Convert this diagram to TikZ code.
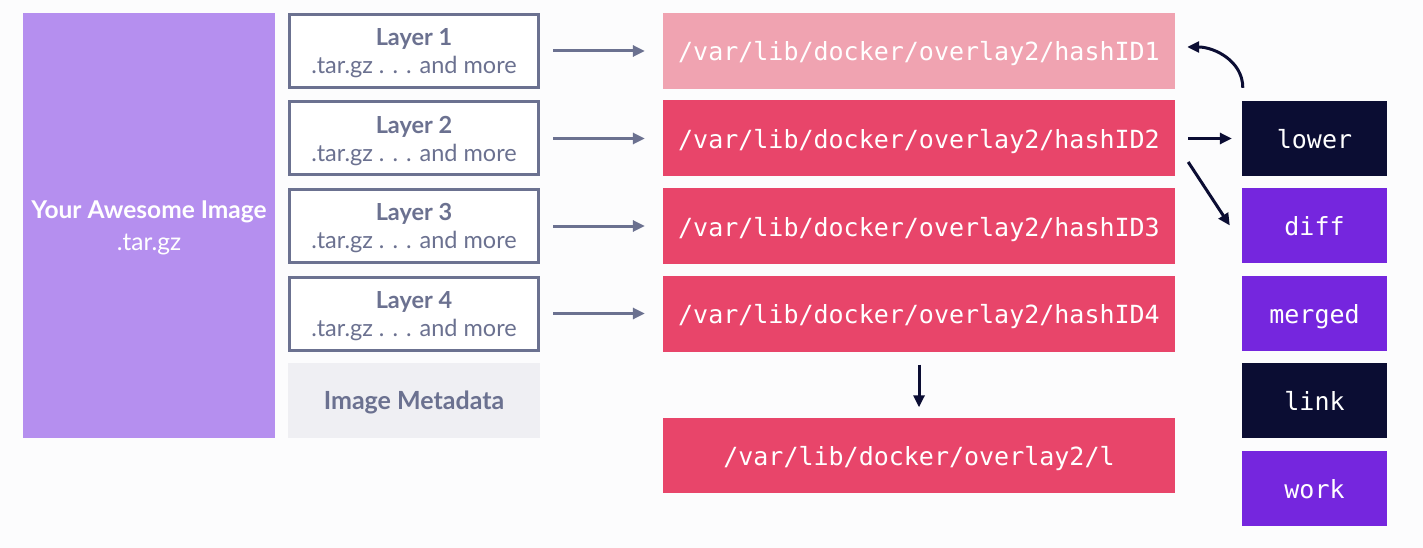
\documentclass[tikz,border=0pt]{standalone}
\usepackage{fontspec}
\setmainfont{Lato}
\setmonofont{DejaVu Sans Mono}
\usetikzlibrary{arrows.meta}
\definecolor{imgpurple}{HTML}{B58FEF}
\definecolor{slate}{HTML}{6B7190}
\definecolor{metagray}{HTML}{EFEFF3}
\definecolor{pinklight}{HTML}{F0A3B1}
\definecolor{dockred}{HTML}{E8456A}
\definecolor{navy}{HTML}{0B0D33}
\definecolor{violet}{HTML}{7526DE}
\definecolor{bgwhite}{HTML}{FCFCFD}
\tikzset{
  imagebox/.style = {fill=imgpurple, text=white, minimum width=252pt, minimum height=425pt,
    align=center, text depth=0pt, font=\fontsize{24.5}{31}\selectfont},
  layerbox/.style = {draw=slate, line width=3pt, fill=white, text=slate, minimum width=249pt,
    minimum height=73pt, align=center, text depth=0pt, font=\fontsize{23.5}{28}\selectfont},
  metabox/.style = {fill=metagray, text=slate, minimum width=252pt, minimum height=75pt,
    text depth=0pt, font=\fontsize{25}{28}\selectfont\bfseries},
  hashbox/.style = {fill=#1, text=white, minimum width=512pt, minimum height=76pt,
    text height=20pt, text depth=0pt, font=\fontsize{25}{30}\ttfamily},
  dirbox/.style = {fill=#1, text=white, minimum width=145pt, minimum height=75pt,
    text height=20pt, text depth=0pt, font=\fontsize{25}{30}\ttfamily},
  grayarrow/.style = {draw=slate, line width=3pt, -{Triangle[length=12pt,width=11pt]},
    shorten <=13pt, shorten >=18pt},
  navyarrow/.style = {draw=navy, line width=3pt, -{Triangle[length=12pt,width=11pt]}}
}

\begin{document}
\begin{tikzpicture}[x=1pt,y=-1pt]
  \fill[bgwhite] (0,0) rectangle (1423,548);
  \useasboundingbox (0,0) rectangle (1423,548);

  \node[imagebox] (image) at (149,225.5) {\textbf{Your Awesome Image}\\[1pt].tar.gz};

  \foreach \i/\y/\c in {1/51/pinklight, 2/138.5/dockred, 3/226/dockred, 4/313.5/dockred} {
    \node[layerbox] (layer\i) at (414,\y) {\textbf{Layer \i}\\.tar.gz . . . and more};
    \node[hashbox=\c] (hash\i) at (919,\y) {/var/lib/docker/overlay2/hashID\i};
    \draw[grayarrow] (layer\i) -- (hash\i);
  }

  \node[metabox] (meta) at (414,400.5) {Image Metadata};
  \node[hashbox=dockred, minimum height=75pt] (linkdir) at (919,455) {/var/lib/docker/overlay2/l};

  \node[dirbox=navy] (lower) at (1314.5,138.5) {lower};
  \node[dirbox=violet] (diff) at (1314.5,225.5) {diff};
  \node[dirbox=violet] (merged) at (1314.5,313.5) {merged};
  \node[dirbox=navy] (link) at (1314.5,400.5) {link};
  \node[dirbox=violet] (work) at (1314.5,488.5) {work};

  \draw[navyarrow, shorten <=13pt, shorten >=10pt] (hash4) -- (linkdir);
  \draw[navyarrow, shorten <=13pt, shorten >=10pt] (hash2) -- (lower);
  \draw[navyarrow] ([xshift=13pt,yshift=-23.5pt]hash2.east) -- ([xshift=-12pt]diff.west);
  \draw[navyarrow] ([xshift=1pt,yshift=13pt]lower.north west) to[out=90,in=0]
    ([xshift=12pt,yshift=4pt]hash1.east);
\end{tikzpicture}
\end{document}
